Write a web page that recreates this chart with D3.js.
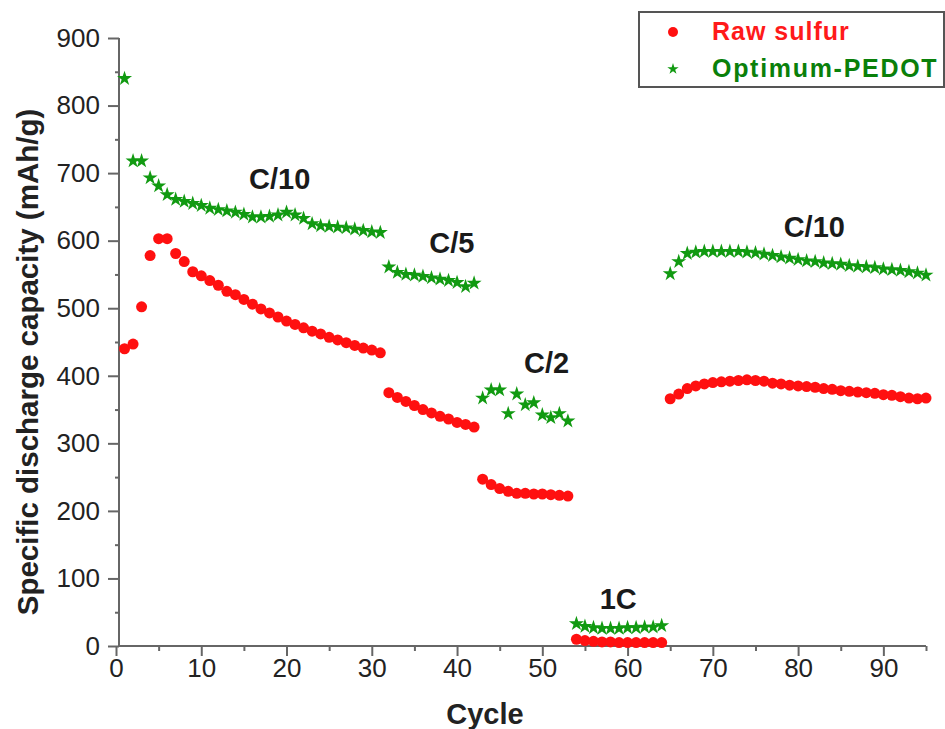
<!DOCTYPE html>
<html><head><meta charset="utf-8">
<script src="https://cdn.jsdelivr.net/npm/d3@7"></script>
<style>body{margin:0;background:#fff;} svg{display:block;font-family:"Liberation Sans",Arial,sans-serif;}</style>
</head><body>
<svg id="c" width="945" height="729"></svg>
<script>
const rawSulfur = [
 440,447,502,578,603,603,581,569,554,548,541,534,525,520,513,506,499,493,487,481,476,471,466,462,457,453,449,445,441,438,434,
 375,368,362,356,350,345,340,336,331,328,324,
 247,239,233,229,226,226,225,225,224,223,222,
 10,8,7,6,6,5,5,5,5,5,5,
 366,373,381,385,388,390,391,392,393,394,393,392,389,388,386,385,384,383,381,380,378,377,376,375,374,372,371,369,367,366,367
];
const optimumPEDOT = [
 840,718,718,693,681,668,661,658,655,652,648,646,644,642,639,635,635,636,638,642,638,633,625,622,621,620,619,617,615,613,612,
 561,553,550,549,547,545,543,541,538,532,537,
 367,379,379,344,373,357,360,342,338,344,333,
 33,29,27,26,26,26,27,27,28,28,30,
 551,569,581,583,584,584,584,584,584,583,582,580,578,576,574,572,570,569,567,566,565,563,562,561,560,558,557,556,554,552,549
];
const xTicks = [0,10,20,30,40,50,60,70,80,90];
const yTicks = [0,100,200,300,400,500,600,700,800,900];
const rateLabels = ["C/10","C/5","C/2","1C","C/10"];
const rateLabelCycle = [19.2,39.4,50.5,58.9,81.9];
const rateLabelValue = [676,582,404,55,605];
const seriesNames = ["Raw sulfur","Optimum-PEDOT"];

const svg = d3.select("#c");
const x = d3.scaleLinear().domain([0,95]).range([116,926]);
const y = d3.scaleLinear().domain([0,900]).range([646,38]);
const axisColor = "#666";
const yAxisX = 119;

// x axis
const gx = svg.append("g").attr("transform","translate(0,646)")
  .call(d3.axisBottom(x).tickValues(d3.range(5,96,10)).tickSize(5).tickFormat(""));
const gx2 = svg.append("g").attr("transform","translate(0,646)")
  .call(d3.axisBottom(x).tickValues(xTicks).tickSize(10).tickPadding(3).tickFormat(d3.format("d")));
[gx,gx2].forEach(g=>{
  g.select(".domain").attr("stroke",axisColor).attr("stroke-width",2).attr("d",`M${yAxisX},0H${x(95)}`);
  g.selectAll(".tick line").attr("stroke",axisColor).attr("stroke-width",2);
});
gx2.selectAll(".tick text").attr("font-size",26).attr("fill","#222").attr("font-family","Liberation Sans, Arial");

// y axis
const gy = svg.append("g").attr("transform",`translate(${yAxisX},0)`)
  .call(d3.axisLeft(y).tickValues(d3.range(50,900,100)).tickSize(4).tickFormat(""));
const gy2 = svg.append("g").attr("transform",`translate(${yAxisX},0)`)
  .call(d3.axisLeft(y).tickValues(yTicks).tickSize(11).tickPadding(8).tickFormat(d3.format("d")));
[gy,gy2].forEach(g=>{
  g.select(".domain").attr("stroke",axisColor).attr("stroke-width",2).attr("d",`M0,${y(0)}V${y(900)}`);
  g.selectAll(".tick line").attr("stroke",axisColor).attr("stroke-width",2);
});
gy2.selectAll(".tick text").attr("font-size",26).attr("fill","#222").attr("font-family","Liberation Sans, Arial");

// axis titles
svg.append("text").attr("x",485).attr("y",724).attr("text-anchor","middle")
  .attr("font-size",29).attr("font-weight","bold").attr("fill","#222").text("Cycle");
svg.append("text").attr("transform","translate(38,362) rotate(-90)").attr("text-anchor","middle")
  .attr("font-size",29.5).attr("font-weight","bold").attr("fill","#222").text("Specific discharge capacity (mAh/g)");

// data
const cycles = d3.range(1, rawSulfur.length+1);
const red = "#ff1010", green = "#119a11";
svg.append("g").selectAll("circle").data(cycles).join("circle")
  .attr("cx",(c)=>x(c)).attr("cy",(c,i)=>y(rawSulfur[i])).attr("r",5.5).attr("fill",red);
const star = d3.symbol().type(d3.symbolStar).size(70);
svg.append("g").selectAll("path").data(cycles).join("path")
  .attr("d",star).attr("fill",green)
  .attr("transform",(c,i)=>`translate(${x(c)},${y(optimumPEDOT[i])})`);

// rate labels
svg.append("g").selectAll("text").data(rateLabels).join("text")
  .attr("x",(d,i)=>x(rateLabelCycle[i])).attr("y",(d,i)=>y(rateLabelValue[i]))
  .attr("text-anchor","middle").attr("font-size",29).attr("font-weight","bold").attr("fill","#1a1a1a")
  .text(d=>d);

// legend
const lg = svg.append("g");
lg.append("rect").attr("x",639).attr("y",12).attr("width",305).attr("height",75)
  .attr("fill","#fff").attr("stroke","#555").attr("stroke-width",2);
lg.append("circle").attr("cx",673).attr("cy",32).attr("r",5).attr("fill",red);
lg.append("path").attr("d",d3.symbol().type(d3.symbolStar).size(40)).attr("fill",green)
  .attr("transform","translate(673,69)");
lg.append("text").attr("x",712).attr("y",40).attr("font-size",25).attr("font-weight","bold")
  .attr("letter-spacing",1.0).attr("fill","#ff1a1a").text(seriesNames[0]);
lg.append("text").attr("x",712).attr("y",77).attr("font-size",25).attr("font-weight","bold")
  .attr("letter-spacing",1.7).attr("fill","#0a800a").text(seriesNames[1]);
</script>
</body></html>
